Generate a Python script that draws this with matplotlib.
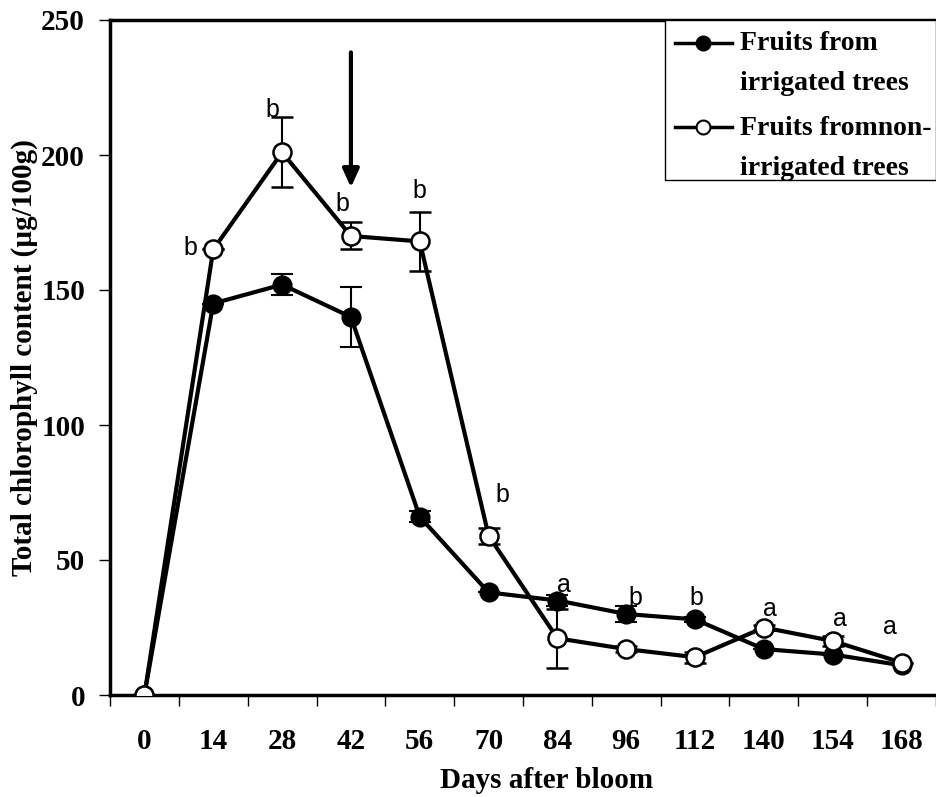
import matplotlib
matplotlib.use("Agg")
import matplotlib.pyplot as plt
from matplotlib.lines import Line2D
from matplotlib.patches import Rectangle
import numpy as np

days = ["0", "14", "28", "42", "56", "70", "84", "96", "112", "140", "154", "168"]
irrigated = [0, 145, 152, 140, 66, 38, 35, 30, 28, 17, 15, 11]
irrigated_err = [0, 0, 4, 11, 2, 0, 2, 3, 1, 0, 0, 0]
nonirrigated = [0, 165, 201, 170, 168, 59, 21, 17, 14, 25, 20, 12]
nonirrigated_err = [0, 0, 13, 5, 11, 3, 11, 1, 2, 1, 2, 0]
letters = ["", "b", "b", "b", "b", "b", "a", "b", "b", "a", "a", "a"]
letter_x = [0, 0.67, 1.86, 2.88, 4.0, 5.2, 6.1, 7.13, 8.02, 9.09, 10.1, 10.83]
letter_y = [0, 165.5, 216.7, 181.9, 186.8, 74, 40.7, 36, 36, 32, 28, 25]
legend_labels = ["Fruits from\nirrigated trees", "Fruits fromnon-\nirrigated trees"]

serif = ["Liberation Serif", "DejaVu Serif"]
sans = ["Liberation Sans", "DejaVu Sans"]

fig = plt.figure(figsize=(9.36, 7.97), dpi=100)
ax = fig.add_axes([110/936, 1-695/797, (936-110)/936, (695-20)/797])

x = np.arange(len(days))

ax.errorbar(x, irrigated, yerr=irrigated_err, color="black", lw=3, marker="o",
            ms=13, mfc="black", mec="black", mew=1.5, ecolor="black",
            elinewidth=1.5, capsize=8, capthick=1.5, zorder=3)
ax.errorbar(x, nonirrigated, yerr=nonirrigated_err, color="black", lw=3, marker="o",
            ms=13, mfc="white", mec="black", mew=1.8, ecolor="black",
            elinewidth=1.5, capsize=8, capthick=1.5, zorder=4)

for lx, ly, t in zip(letter_x, letter_y, letters):
    if t:
        ax.text(lx, ly, t, ha="center", va="center", fontsize=18,
                family=sans, zorder=5)

# arrow at day 42
ax.annotate("", xy=(3, 188), xytext=(3, 238),
            arrowprops=dict(arrowstyle="-|>,head_length=1.1,head_width=0.5",
                            color="black", lw=3, shrinkA=0, shrinkB=0,
                            mutation_scale=10), zorder=5)

ax.set_xlim(-0.5, len(days) - 0.5)
ax.set_ylim(0, 250)
ax.set_yticks([0, 50, 100, 150, 200, 250])
ax.set_xticks(x)
ax.set_xticklabels(days)
ax.set_xticks(np.arange(-0.5, len(days), 1), minor=True)
ax.tick_params(axis="x", which="major", length=0, pad=24)
ax.tick_params(axis="x", which="minor", length=8, width=1, direction="out")
ax.tick_params(axis="y", which="major", length=8, width=1, direction="out", pad=10)
for lab in ax.get_xticklabels() + ax.get_yticklabels():
    lab.set_family(serif)
    lab.set_fontweight("bold")
    lab.set_fontsize(21)

for s in ["left", "bottom", "top"]:
    ax.spines[s].set_linewidth(2.5)
ax.spines["right"].set_visible(False)

ax.set_ylabel("Total chlorophyll content (µg/100g)", family=serif, fontweight="bold",
              fontsize=21)
ax.yaxis.set_label_coords(-(110-38)/826, 0.5)
fig.text(547/936, 1-780/797, "Days after bloom", ha="center", va="center",
         family=serif, fontweight="bold", fontsize=21)

# legend box (Excel-style, handle aligned with first text line)
ax.add_patch(Rectangle((0.672, 0.763), 0.328, 0.237, transform=ax.transAxes,
                       facecolor="white", edgecolor="black", lw=1.0, zorder=6,
                       clip_on=False))
leg_fill = ["black", "white"]
leg_y = [0.966, 0.841]
for fc, ly, lab in zip(leg_fill, leg_y, legend_labels):
    ax.add_line(Line2D([0.684, 0.753], [ly, ly], transform=ax.transAxes,
                       color="black", lw=2.5, zorder=7))
    ax.add_line(Line2D([0.718], [ly], transform=ax.transAxes, marker="o",
                       ms=10, mfc=fc, mec="black", mew=1.5, zorder=8))
    ax.text(0.763, ly - 0.031, lab, transform=ax.transAxes, ha="left",
            va="center", family=serif, fontweight="bold", fontsize=20,
            linespacing=1.8, zorder=8)

fig.savefig("out.png", dpi=100)
